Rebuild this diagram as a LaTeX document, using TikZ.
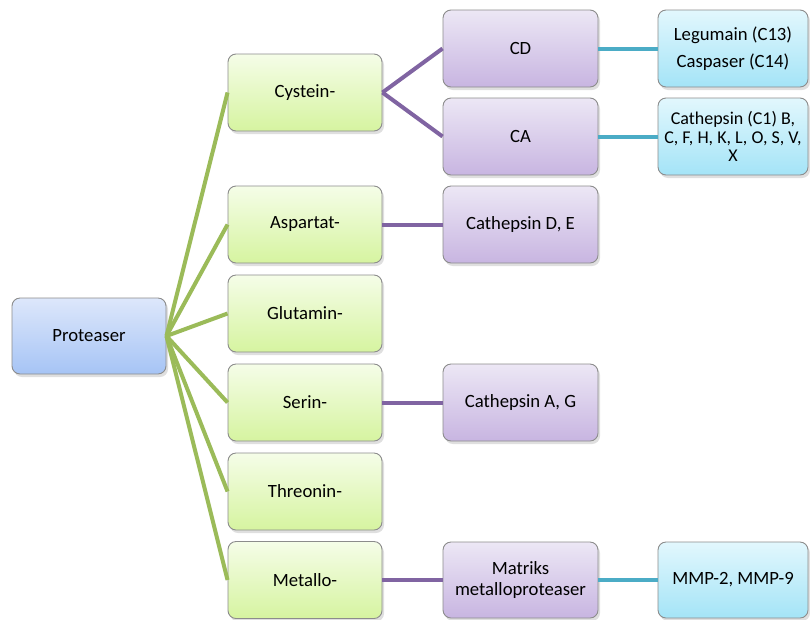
\documentclass[tikz,border=0pt]{standalone}
\usepackage{fontspec}
\setmainfont{Carlito}
\usetikzlibrary{shadows}
\definecolor{gline}{HTML}{9BBB59}
\definecolor{pline}{HTML}{8064A2}
\definecolor{bline}{HTML}{4BACC6}
\definecolor{rimc}{HTML}{8C8C8C}
\tikzset{
  basebox/.style={draw=rimc, line width=0.9pt, rounded corners=8pt, align=center,
    minimum height=77pt, inner sep=2pt, text=black,
    font=\fontsize{18.7}{20.5}\selectfont,
    drop shadow={opacity=0.25, shadow xshift=2pt, shadow yshift=-3pt}},
  pbox/.style={basebox, minimum width=154pt, minimum height=76pt, top color={rgb,255:red,221;green,231;blue,251}, bottom color={rgb,255:red,166;green,196;blue,245}},
  gbox/.style={basebox, minimum width=154pt, top color={rgb,255:red,245;green,253;blue,232}, bottom color={rgb,255:red,214;green,244;blue,160}},
  vbox/.style={basebox, minimum width=155pt, top color={rgb,255:red,236;green,231;blue,245}, bottom color={rgb,255:red,200;green,181;blue,225}},
  cbox/.style={basebox, minimum width=150pt, top color={rgb,255:red,226;green,247;blue,253}, bottom color={rgb,255:red,164;green,228;blue,247}},
  gcon/.style={draw=gline, line width=4pt},
  pcon/.style={draw=pline, line width=4pt},
  bcon/.style={draw=bline, line width=4pt}
}
\begin{document}
\begin{tikzpicture}[x=1pt,y=1pt]
\useasboundingbox (0,0) rectangle (810,-619);
\fill[white] (0,0) rectangle (810,-619);
% root
\node[pbox] (prot) at (89,-336) {Proteaser};
% green
\node[gbox] (cys) at (305,-92.5) {Cystein-};
\node[gbox] (asp) at (305,-224.5) {Aspartat-};
\node[gbox] (glu) at (305,-313.5) {Glutamin-};
\node[gbox] (ser) at (305,-402.5) {Serin-};
\node[gbox] (thr) at (305,-491.5) {Threonin-};
\node[gbox] (met) at (305,-580) {Metallo-};
% purple
\node[vbox] (cd) at (520.5,-48.5) {CD};
\node[vbox] (ca) at (520.5,-136.5) {CA};
\node[vbox] (cde) at (520.5,-224.5) {Cathepsin D, E};
\node[vbox] (cag) at (520.5,-402.5) {Cathepsin A, G};
\node[vbox, minimum height=76pt] (mmx) at (520.5,-580) {Matriks\\metalloproteaser};
% blue
\node[cbox] (leg) at (733,-48.5) {Legumain (C13)\\[7pt]Caspaser (C14)};
\node[cbox, font=\fontsize{18}{18.5}\selectfont] (cat) at (733,-136.5) {Cathepsin (C1) B,\\C, F, H, K, L, O, S, V,\\X};
\node[cbox, minimum height=76pt] (mmp) at (733,-580) {MMP-2, MMP-9};
% connectors
\foreach \t in {cys,asp,glu,ser,thr,met}
  \draw[gcon] (prot.east) -- (\t.west);
\draw[pcon] (cys.east) -- (cd.west);
\draw[pcon] (cys.east) -- (ca.west);
\draw[pcon] (asp.east) -- (cde.west);
\draw[pcon] (ser.east) -- (cag.west);
\draw[pcon] (met.east) -- (mmx.west);
\draw[bcon] (cd.east) -- (leg.west);
\draw[bcon] (ca.east) -- (cat.west);
\draw[bcon] (mmx.east) -- (mmp.west);
\end{tikzpicture}
\end{document}
